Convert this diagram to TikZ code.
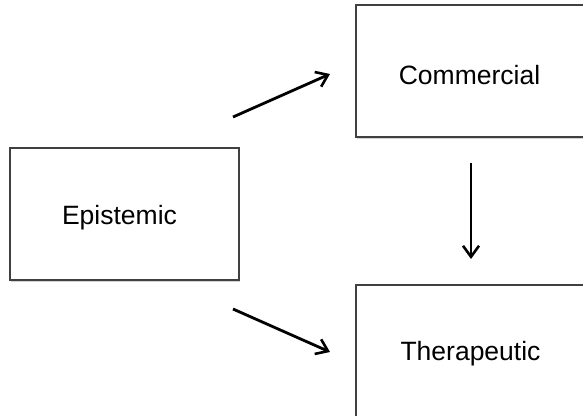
\documentclass[tikz,border=0pt]{standalone}
\usepackage{fontspec}
\setmainfont{Liberation Sans}
\usetikzlibrary{arrows.meta,shadows}
\begin{document}
\begin{tikzpicture}[x=1pt,y=-1pt,
  box/.style={draw=black!75,line width=1.3pt,fill=white,minimum width=229pt,minimum height=132pt,inner sep=0pt,
    drop shadow={shadow xshift=1pt,shadow yshift=-1.5pt,fill=black!35,opacity=0.5}},
  lab/.style={font=\fontsize{26.5}{30}\selectfont,inner sep=0pt},
  arr/.style={line width=2.8pt,-{Straight Barb[length=11pt,width=16pt,line width=2.6pt]}}]
\useasboundingbox (0,0) rectangle (583,415);
\clip (0,0) rectangle (583,415);
\node[box] (epi) at (124.5,214) {};
\node[box] (com) at (470.5,71) {};
\node[box] (the) at (470.5,351) {};
\node[lab] (epit) at ([xshift=-5pt,yshift=-4pt]epi.center) {Epistemic};
\node[lab] (comt) at ([xshift=-1pt,yshift=-4pt]com.center) {Commercial};
\node[lab] (thet) at ([yshift=-3pt]the.center) {Therapeutic};
\coordinate (a1s) at (233,117);
\coordinate (a1e) at (330,74);
\coordinate (a2s) at (233,309);
\coordinate (a2e) at (330,352);
\coordinate (a3s) at (471,163);
\coordinate (a3e) at (471,259);
\draw[arr] (a1s) -- (a1e);
\draw[arr] (a2s) -- (a2e);
\draw[arr] (a3s) -- (a3e);
\end{tikzpicture}
\end{document}
